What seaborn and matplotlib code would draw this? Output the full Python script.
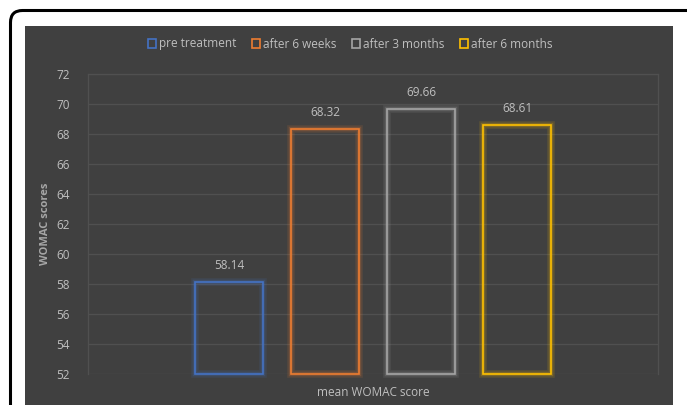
import matplotlib
matplotlib.use("Agg")
import matplotlib.pyplot as plt
import matplotlib.patheffects as pe
from matplotlib.patches import FancyBboxPatch, Rectangle, Patch
from matplotlib.transforms import IdentityTransform
import seaborn as sns
import pandas as pd

group = ["mean WOMAC score"]
series = ["pre treatment", "after 6 weeks", "after 3 months", "after 6 months"]
values = [58.14, 68.32, 69.66, 68.61]
colors = ["#4472C4", "#ED7D31", "#A5A5A5", "#FFC000"]
yticks = [52, 54, 56, 58, 60, 62, 64, 66, 68, 70, 72]

df = pd.DataFrame({"group": group * len(series), "series": series, "value": values})

sns.set_theme(style="white")
plt.rcParams["font.family"] = ["Open Sans", "DejaVu Sans"]

BG = "#404040"
TXT = "#BFBFBF"
GRID = "#505050"

fig = plt.figure(figsize=(6.87, 4.05), dpi=100)
fig.patch.set_facecolor("white")

# outer rounded frame
frame = FancyBboxPatch((10.5, -40), 700, 434.5, boxstyle="round,pad=0,rounding_size=12",
                       transform=IdentityTransform(), facecolor="white", edgecolor="black",
                       linewidth=2.2, zorder=-3)
fig.patches.append(frame)
panel = Rectangle((25 / 687, 0), 648 / 687, 379 / 405, transform=fig.transFigure,
                  facecolor=BG, edgecolor="none", zorder=-2)
fig.patches.append(panel)

ax = fig.add_axes([88 / 687, 31 / 405, 570 / 687, 300 / 405])
ax.set_facecolor(BG)

sns.barplot(data=df, x="group", y="value", hue="series", hue_order=series,
            palette=colors, fill=False, width=0.674, gap=0.29, linewidth=1.2,
            legend=False, ax=ax, errorbar=None)

ax.set_ylim(yticks[0], yticks[-1])
ax.set_xlim(-0.5, 0.5)
base = yticks[0]
for p, c in zip(ax.patches, colors):
    h = p.get_height()
    p.set_y(base)
    p.set_height(h - base)
    p.set_edgecolor(c)
    p.set_clip_on(False)
    p.set_path_effects([pe.Stroke(linewidth=5.5, foreground=c, alpha=0.12),
                        pe.Stroke(linewidth=3.2, foreground=c, alpha=0.22),
                        pe.Normal()])
    ax.annotate(f"{h:.2f}", (p.get_x() + p.get_width() / 2, h), xytext=(0, 7),
                textcoords="offset points", ha="center", va="bottom",
                color=TXT, fontsize=8.5)

ax.set_yticks(yticks)
ax.set_yticklabels([str(t) for t in yticks], color=TXT, fontsize=8.5)
ax.set_xticks([])
ax.tick_params(axis="y", length=0, pad=13)
ax.yaxis.grid(True, color=GRID, linewidth=0.9)
ax.set_axisbelow(True)
ax.spines["bottom"].set_visible(False)
for s in ["left", "right", "top"]:
    ax.spines[s].set_color(GRID)
    ax.spines[s].set_linewidth(0.9)

ax.set_xlabel("mean WOMAC score", color=TXT, fontsize=8.5, labelpad=9)
ax.set_ylabel("WOMAC scores", color="#A6A6A6", fontsize=8, fontweight="bold", labelpad=4)

handles = [Patch(facecolor="none", edgecolor=c, linewidth=1.2) for c in colors]
fig.legend(handles, series, loc="center", bbox_to_anchor=(350 / 687, 1 - 44 / 405), ncol=4,
           frameon=False, fontsize=8.5, labelcolor=TXT, handlelength=0.7, handleheight=0.9,
           handletextpad=0.25, columnspacing=1.3)

fig.savefig("out.png", dpi=100, facecolor="white")
